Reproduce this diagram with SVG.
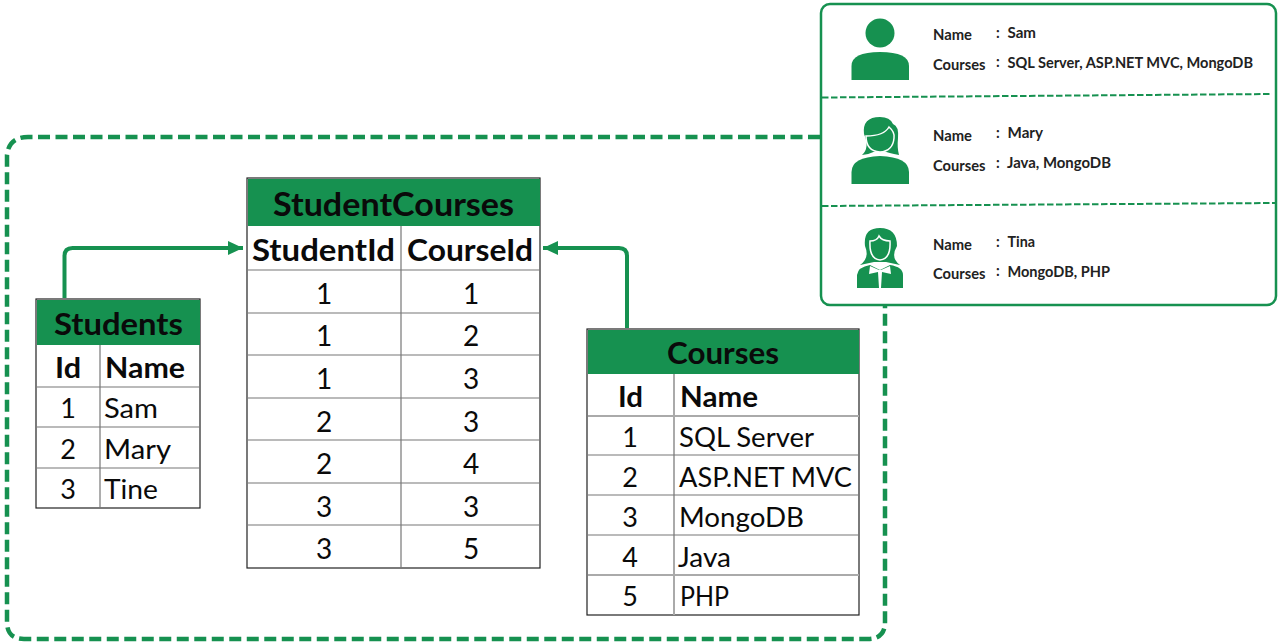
<svg xmlns="http://www.w3.org/2000/svg" width="1280" height="643" viewBox="0 0 1280 643">
<style>
text{font-family:Lato,"Open Sans",sans-serif;fill:#0a0a0a}
.t{font-weight:700;font-size:33px}
.h{font-weight:700;font-size:30px}
.r{font-size:28px;text-anchor:middle}
.c{font-size:27px}
.k{font-size:14.5px;font-weight:700;fill:#222}
.v{font-size:14.5px;font-weight:700;fill:#222}
.head{fill:#169150}
.box{fill:#fff;stroke:#222;stroke-width:1.2}
.in{stroke:#777;stroke-width:1.2;fill:none}
.in2{stroke:#aaa;stroke-width:2;fill:none}
.conn{fill:none;stroke:#169150;stroke-width:4;stroke-linejoin:round}
.icon{fill:#169150}
</style>
<defs>
<marker id="ah" markerUnits="userSpaceOnUse" markerWidth="16" markerHeight="14" refX="15" refY="7" orient="auto"><path d="M0 0L15 7L0 14Z" fill="#169150"/></marker>
</defs>
<path id="boundary" d="M820 137H28Q9 137 7 155V622Q7 639 24 639H868Q885 639 885 622V306" fill="none" stroke="#169150" stroke-width="4.500" stroke-dasharray="12 5.500"/>
<g id="connectors">
<path class="conn" d="M64.500 298V256Q64.500 248 72.500 248H243" marker-end="url(#ah)"/>
<path class="conn" d="M627 328V256Q627 248 619 248H543" marker-end="url(#ah)"/>
</g>
<g id="students">
<rect class="box" x="36" y="299" width="164" height="209"/>
<rect class="head" x="37" y="300" width="163" height="45"/>
<path class="in" d="M100 345V508M37 387H200M37 427H200M37 468H200"/>
<text class="t" x="54" y="335" style="font-size:31px" textLength="129" lengthAdjust="spacingAndGlyphs">Students</text>
<text class="h" x="55" y="378" style="font-size:28px" textLength="26" lengthAdjust="spacingAndGlyphs">Id</text>
<text class="h" x="105" y="378" style="font-size:28px" textLength="80" lengthAdjust="spacingAndGlyphs">Name</text>
<text class="r" x="68" y="418" style="font-size:27px">1</text><text class="c" x="104" y="418" textLength="54" lengthAdjust="spacingAndGlyphs">Sam</text>
<text class="r" x="68" y="459" style="font-size:27px">2</text><text class="c" x="104" y="459" textLength="67" lengthAdjust="spacingAndGlyphs">Mary</text>
<text class="r" x="68" y="499" style="font-size:27px">3</text><text class="c" x="104" y="499" textLength="54" lengthAdjust="spacingAndGlyphs">Tine</text>
</g>
<g id="student-courses">
<rect class="box" x="247" y="178" width="293" height="390"/>
<rect class="head" x="248" y="179" width="292" height="47"/>
<path class="in" d="M401 226V568M248 270H540M248 313H540M248 355H540M248 398H540M248 440H540M248 483H540M248 525H540"/>
<text class="t" x="273" y="216" textLength="241" lengthAdjust="spacingAndGlyphs">StudentCourses</text>
<text class="h" x="252" y="261" textLength="143" lengthAdjust="spacingAndGlyphs">StudentId</text>
<text class="h" x="407" y="261" textLength="126" lengthAdjust="spacingAndGlyphs">CourseId</text>
<text class="r" x="324" y="304">1</text><text class="r" x="471" y="304">1</text>
<text class="r" x="324" y="346">1</text><text class="r" x="471" y="346">2</text>
<text class="r" x="324" y="389">1</text><text class="r" x="471" y="389">3</text>
<text class="r" x="324" y="432">2</text><text class="r" x="471" y="432">3</text>
<text class="r" x="324" y="474">2</text><text class="r" x="471" y="474">4</text>
<text class="r" x="324" y="517">3</text><text class="r" x="471" y="517">3</text>
<text class="r" x="324" y="559">3</text><text class="r" x="471" y="559">5</text>
</g>
<g id="courses">
<rect class="box" x="587" y="329" width="272" height="286"/>
<rect class="head" x="588" y="330" width="271" height="44"/>
<path class="in2" d="M674 374V615M588 416H859M588 575H859"/>
<path class="in" d="M588 455H859M588 495H859M588 535H859"/>
<text class="t" x="667" y="364" style="font-size:30px" textLength="112" lengthAdjust="spacingAndGlyphs">Courses</text>
<text class="h" x="618" y="407" style="font-size:28px" textLength="25" lengthAdjust="spacingAndGlyphs">Id</text>
<text class="h" x="680" y="407" style="font-size:28px" textLength="78" lengthAdjust="spacingAndGlyphs">Name</text>
<text class="r" x="630" y="447" style="font-size:27px">1</text><text class="c" x="679" y="447" textLength="135" lengthAdjust="spacingAndGlyphs">SQL Server</text>
<text class="r" x="630" y="487" style="font-size:27px">2</text><text class="c" x="679" y="487" textLength="173" lengthAdjust="spacingAndGlyphs">ASP.NET MVC</text>
<text class="r" x="630" y="527" style="font-size:27px">3</text><text class="c" x="679" y="527" textLength="125" lengthAdjust="spacingAndGlyphs">MongoDB</text>
<text class="r" x="630" y="567" style="font-size:27px">4</text><text class="c" x="678" y="567" textLength="53" lengthAdjust="spacingAndGlyphs">Java</text>
<text class="r" x="630" y="606" style="font-size:27px">5</text><text class="c" x="680" y="606" textLength="49" lengthAdjust="spacingAndGlyphs">PHP</text>
</g>
<g id="result-panel">
<rect x="821" y="4" width="455" height="301" rx="9" fill="#fff" stroke="#169150" stroke-width="2.500"/>
<path d="M822 97.500L1272 94M822 206L1276 203" fill="none" stroke="#169150" stroke-width="2" stroke-dasharray="6.500 2.500"/>
</g>
<g id="sam">
<circle class="icon" cx="880" cy="33" r="14.500"/>
<path class="icon" d="M851.500 80V66Q851.500 52 880 52Q909 52 909 66V80Z"/>
<text class="k" x="933" y="40" textLength="39" lengthAdjust="spacingAndGlyphs">Name</text>
<text class="k" x="996" y="38">:</text>
<text class="v" x="1007.500" y="38" textLength="28.500" lengthAdjust="spacingAndGlyphs">Sam</text>
<text class="k" x="933" y="70" textLength="52.500" lengthAdjust="spacingAndGlyphs">Courses</text>
<text class="k" x="996" y="67">:</text>
<text class="v" x="1007.500" y="68" textLength="245.500" lengthAdjust="spacingAndGlyphs">SQL Server, ASP.NET MVC, MongoDB</text>
</g>
<g id="mary">
<path class="icon" d="M862 155Q870 148 864 134Q862 117 880 117Q890 117 893 124Q899 126 898 138Q897 148 899 155Q888 153 884 151H876Q870 154 862 155Z"/>
<path class="icon" stroke="#fff" stroke-width="1.500" d="M866 136Q884 136 889 127Q895 132 894 138Q893 151 880 152Q866 151 866 136Z"/>
<path class="icon" d="M851.500 184V172Q851.500 157 880 156Q909 157 909 172V184Z"/>
<text class="k" x="933" y="141" textLength="39" lengthAdjust="spacingAndGlyphs">Name</text>
<text class="k" x="996" y="138">:</text>
<text class="v" x="1007.500" y="138" textLength="35.500" lengthAdjust="spacingAndGlyphs">Mary</text>
<text class="k" x="933" y="171" textLength="52.500" lengthAdjust="spacingAndGlyphs">Courses</text>
<text class="k" x="996" y="168">:</text>
<text class="v" x="1007" y="168" textLength="104" lengthAdjust="spacingAndGlyphs">Java, MongoDB</text>
</g>
<g id="tina">
<path class="icon" d="M860 265Q870 258 865 246Q863 228 880 228Q897 228 897 246Q890 258 900 265L886 262H874Z"/>
<path class="icon" stroke="#fff" stroke-width="1.500" d="M870 241Q877 241 879 236Q882 241 890 241Q891 259 880 260Q869 259 870 241Z"/>
<path class="icon" d="M857 288V275Q858 267 870 265L880 270L890 265Q903 267 903 275V288Z"/>
<path d="M870 266L879 270H881L890 266L891 274L882 272L881 288H879L878 272L869 274Z" fill="#fff"/>
<text class="k" x="933" y="250" textLength="39" lengthAdjust="spacingAndGlyphs">Name</text>
<text class="k" x="996" y="247">:</text>
<text class="v" x="1007.500" y="247" textLength="27.500" lengthAdjust="spacingAndGlyphs">Tina</text>
<text class="k" x="933" y="279" textLength="52.500" lengthAdjust="spacingAndGlyphs">Courses</text>
<text class="k" x="996" y="276">:</text>
<text class="v" x="1007.500" y="277" textLength="102.500" lengthAdjust="spacingAndGlyphs">MongoDB, PHP</text>
</g>
</svg>
